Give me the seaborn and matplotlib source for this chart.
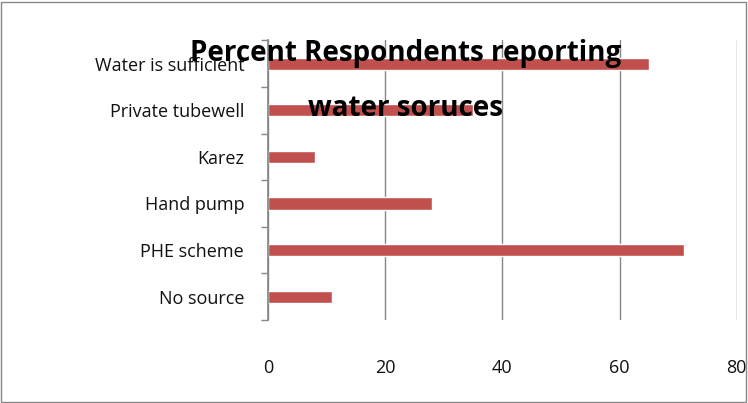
import matplotlib
matplotlib.use("Agg")
import matplotlib.pyplot as plt
import seaborn as sns
import pandas as pd

categories = ["Water is sufficient", "Private tubewell", "Karez", "Hand pump", "PHE scheme", "No source"]
values = [65, 35, 8, 28, 71, 11]

sns.set_theme(style="white")
plt.rcParams['font.family'] = ['Open Sans', 'DejaVu Sans']
df = pd.DataFrame({"cat": categories, "val": values})

fig = plt.figure(figsize=(7.48, 4.03), dpi=100)
ax = fig.add_axes([0.358, 0.206, 0.627, 0.694])
sns.barplot(data=df, x="val", y="cat", color="#C0504D", width=0.26, saturation=1, ax=ax)
ax.set_xlim(0, 80)
ax.set_xticks([0, 20, 40, 60, 80])
ax.xaxis.grid(True, color="#878787", linewidth=1)
ax.set_axisbelow(True)
ax.set_xlabel(""); ax.set_ylabel("")
for s in ["top", "right", "bottom"]:
    ax.spines[s].set_visible(False)
ax.spines["left"].set_color("#878787")
ax.set_yticks([i + 0.5 for i in range(-1, 6)], minor=True)
ax.tick_params(axis="y", which="minor", left=True, length=5, color="#878787")
ax.tick_params(axis="y", which="major", left=False, labelsize=13, pad=11)
ax.tick_params(axis="x", bottom=False, labelsize=13, pad=22)
for t in ax.get_yticklabels() + ax.get_xticklabels():
    t.set_color("#111111")
fig.text(0.542, 1 - 53/403, "Percent Respondents reporting", ha="center", va="center",
         fontsize=20, fontweight="bold", color="black")
fig.text(0.542, 1 - 108/403, "water soruces", ha="center", va="center",
         fontsize=20, fontweight="bold", color="black")
fig.patches.append(plt.Rectangle((0.002, 0.003), 0.995, 0.993, transform=fig.transFigure,
                                 fill=False, edgecolor="#878787", linewidth=1))
fig.savefig("out.png", dpi=100)
